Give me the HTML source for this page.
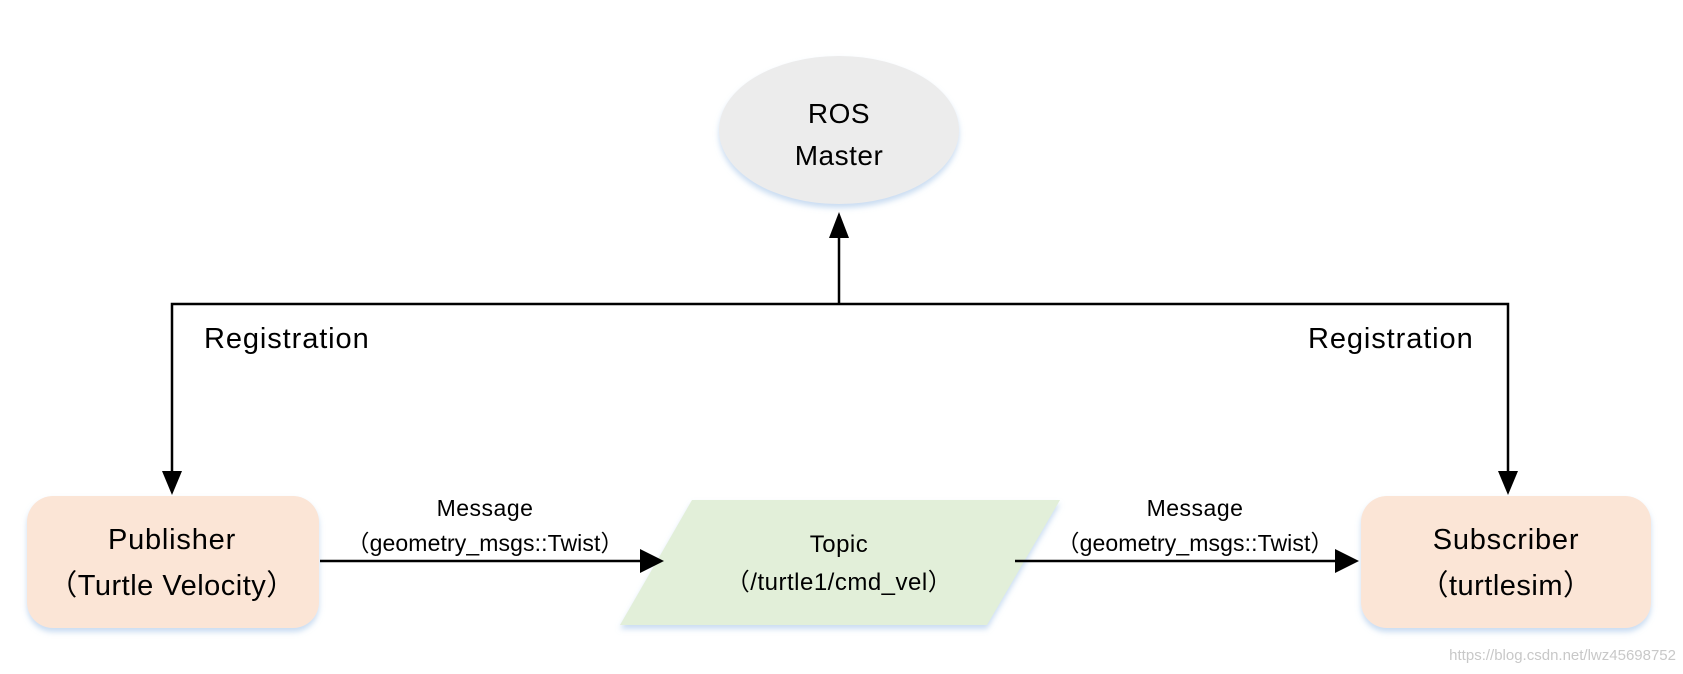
<!DOCTYPE html>
<html><head><meta charset="utf-8"><style>
html,body{margin:0;padding:0;background:#fff;}
svg{display:block;}
text{font-family:"Liberation Sans","Noto Sans CJK SC",sans-serif;fill:#000;}
</style></head><body>
<svg width="1683" height="674" viewBox="0 0 1683 674" xmlns="http://www.w3.org/2000/svg">
<defs>
<filter id="sh" x="-10%" y="-10%" width="120%" height="130%">
<feDropShadow dx="0" dy="4" stdDeviation="3" flood-color="#bcd3ee" flood-opacity="0.8"/>
</filter>
</defs>
<ellipse cx="839" cy="130" rx="120" ry="74" fill="#ececec" filter="url(#sh)"/>
<text x="839" y="123" font-size="28" text-anchor="middle" letter-spacing="0.5">ROS</text>
<text x="839" y="165" font-size="28" text-anchor="middle" letter-spacing="0.5">Master</text>
<polyline points="172,472 172,304 1508,304 1508,472" fill="none" stroke="#000" stroke-width="2.5"/>
<line x1="839" y1="304" x2="839" y2="236" stroke="#000" stroke-width="2.5"/>
<polygon points="839,212 829,238 849,238" fill="#000"/>
<polygon points="172,495 162,471 182,471" fill="#000"/>
<polygon points="1508,495 1498,471 1518,471" fill="#000"/>
<text x="204" y="348" font-size="29" letter-spacing="1.3" textLength="166">Registration</text>
<text x="1308" y="348" font-size="29" letter-spacing="1.3" textLength="166">Registration</text>
<rect x="27" y="496" width="292" height="132" rx="26" fill="#fbe5d6" filter="url(#sh)"/>
<text x="172" y="549" font-size="29" text-anchor="middle" letter-spacing="0.8">Publisher</text>
<text x="172" y="595" font-size="29" text-anchor="middle" letter-spacing="0.5">（Turtle Velocity）</text>
<rect x="1361" y="496" width="290" height="132" rx="26" fill="#fbe5d6" filter="url(#sh)"/>
<text x="1506" y="549" font-size="29" text-anchor="middle" letter-spacing="0.8">Subscriber</text>
<text x="1506" y="595" font-size="29" text-anchor="middle" letter-spacing="0.5">（turtlesim）</text>
<polygon points="692,500 1060,500 987,625 620,625" fill="#e2efd9" filter="url(#sh)"/>
<text x="839" y="552" font-size="24" text-anchor="middle" letter-spacing="0.5">Topic</text>
<text x="839" y="590" font-size="24" text-anchor="middle" letter-spacing="0.5">（/turtle1/cmd_vel）</text>
<line x1="320" y1="561" x2="642" y2="561" stroke="#000" stroke-width="2.5"/>
<polygon points="664,561 640,549 640,573" fill="#000"/>
<line x1="1015" y1="561" x2="1337" y2="561" stroke="#000" stroke-width="2.5"/>
<polygon points="1359,561 1335,549 1335,573" fill="#000"/>
<text x="485" y="516" font-size="23" text-anchor="middle" letter-spacing="0.5">Message</text>
<text x="485" y="551" font-size="23" text-anchor="middle" textLength="277">（geometry_msgs::Twist）</text>
<text x="1195" y="516" font-size="23" text-anchor="middle" letter-spacing="0.5">Message</text>
<text x="1195" y="551" font-size="23" text-anchor="middle" textLength="277">（geometry_msgs::Twist）</text>
<text x="1676" y="660" font-size="15" text-anchor="end" style="fill:#c8c8c8">https://blog.csdn.net/lwz45698752</text>
</svg>
</body></html>
